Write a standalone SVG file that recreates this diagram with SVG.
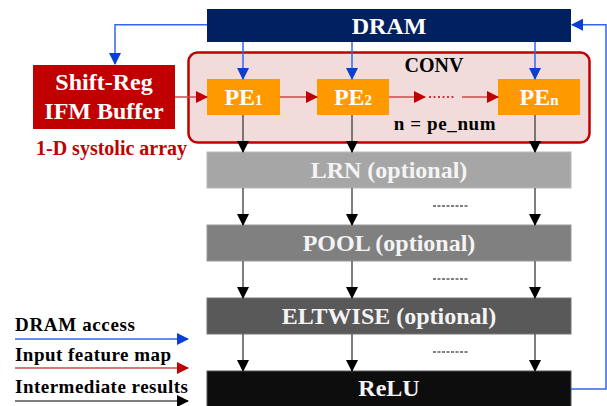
<svg xmlns="http://www.w3.org/2000/svg" width="607" height="406" viewBox="0 0 607 406" font-family="'Liberation Serif', 'DejaVu Serif', serif" font-weight="bold">
<style>
text{font-family:'Liberation Serif','DejaVu Serif',serif;font-weight:bold}
.wt{fill:#ffffff;font-size:24px;text-anchor:middle}
.bar{fill:#f4f4f4;font-size:24px;text-anchor:middle}
.leg{fill:#000;font-size:19px}
.blue{stroke:#3366ee;stroke-width:1.5;fill:none}
.red{stroke:#d04848;stroke-width:1.5;fill:none}
.blk{stroke:#555;stroke-width:1.5;fill:none}
.sub{font-size:15px}
</style>
<defs>
<marker id="hb" markerUnits="userSpaceOnUse" markerWidth="12" markerHeight="12" refX="11" refY="6" orient="auto"><path d="M0,0 L12,6 L0,12 Z" fill="#0a3fd6"/></marker>
<marker id="hr" markerUnits="userSpaceOnUse" markerWidth="12" markerHeight="12" refX="11" refY="6" orient="auto"><path d="M0,0 L12,6 L0,12 Z" fill="#c00000"/></marker>
<marker id="hk" markerUnits="userSpaceOnUse" markerWidth="12" markerHeight="12" refX="11" refY="6" orient="auto"><path d="M0,0 L12,6 L0,12 Z" fill="#000"/></marker>
</defs>

<g id="conv">
<rect x="188.5" y="52.5" width="401" height="90" rx="9" fill="#f2dcdb" stroke="#c00000" stroke-width="2.5"/>
<text x="434" y="72" font-size="20" text-anchor="middle">CONV</text>
<text x="445" y="130" font-size="19" text-anchor="middle" letter-spacing="0.6">n = pe_num</text>
</g>

<g id="dram">
<rect x="207" y="9" width="364" height="33" fill="#002060"/>
<text class="wt" x="389" y="33.5">DRAM</text>
</g>

<g id="shiftreg">
<rect x="33" y="65" width="142" height="64" fill="#c00000"/>
<text class="wt" x="104" y="90">Shift-Reg</text>
<text class="wt" x="104" y="119">IFM Buffer</text>
</g>
<text x="36" y="155" font-size="20" fill="#c00000">1-D systolic array</text>

<g id="pe1">
<rect x="207" y="79" width="73" height="36" fill="#ff9900"/>
<text class="wt" x="243.5" y="105">PE<tspan class="sub">1</tspan></text>
</g>
<g id="pe2">
<rect x="317" y="79" width="72" height="36" fill="#ff9900"/>
<text class="wt" x="353" y="105">PE<tspan class="sub">2</tspan></text>
</g>
<g id="pen">
<rect x="498" y="79" width="82" height="36" fill="#ff9900"/>
<text class="wt" x="539" y="105">PE<tspan class="sub">n</tspan></text>
</g>

<g id="lrn">
<rect x="207" y="152" width="364" height="36" fill="#a6a6a6" stroke="#b8b8b8" stroke-width="1"/>
<text class="bar" x="389" y="178">LRN (optional)</text>
</g>
<g id="pool">
<rect x="207" y="225" width="364" height="36" fill="#808080" stroke="#9a9a9a" stroke-width="1"/>
<text class="bar" x="389" y="251">POOL (optional)</text>
</g>
<g id="eltwise">
<rect x="207" y="298" width="364" height="36" fill="#595959" stroke="#777" stroke-width="1"/>
<text class="bar" x="389" y="324">ELTWISE (optional)</text>
</g>
<g id="relu">
<rect x="207" y="371" width="364" height="36" fill="#0d0d0d" stroke="#555" stroke-width="1"/>
<text class="bar" x="389" y="396">ReLU</text>
</g>

<g id="connectors">
<path class="blue" d="M207,24.7 H115 V64" marker-end="url(#hb)"/>
<path class="blue" d="M243,42 V79" marker-end="url(#hb)"/>
<path class="blue" d="M352,42 V79" marker-end="url(#hb)"/>
<path class="blue" d="M535,42 V79" marker-end="url(#hb)"/>
<path class="blue" d="M571,389 H606 V24.7 H572" marker-end="url(#hb)"/>

<path class="red" d="M175,97 H207" marker-end="url(#hr)"/>
<path class="red" d="M280,97 H317" marker-end="url(#hr)"/>
<path class="red" d="M389,97 H425" marker-end="url(#hr)"/>
<path d="M429,97 H456" stroke="#c00000" stroke-width="1.5" stroke-dasharray="2,2.5"/>
<path class="red" d="M462,97 H498" marker-end="url(#hr)"/>

<path class="blk" d="M243,115 V152" marker-end="url(#hk)"/>
<path class="blk" d="M352,115 V152" marker-end="url(#hk)"/>
<path class="blk" d="M535,115 V152" marker-end="url(#hk)"/>
<path class="blk" d="M243,188 V225" marker-end="url(#hk)"/>
<path class="blk" d="M352,188 V225" marker-end="url(#hk)"/>
<path class="blk" d="M535,188 V225" marker-end="url(#hk)"/>
<path class="blk" d="M243,261 V298" marker-end="url(#hk)"/>
<path class="blk" d="M352,261 V298" marker-end="url(#hk)"/>
<path class="blk" d="M535,261 V298" marker-end="url(#hk)"/>
<path class="blk" d="M243,334 V371" marker-end="url(#hk)"/>
<path class="blk" d="M352,334 V371" marker-end="url(#hk)"/>
<path class="blk" d="M535,334 V371" marker-end="url(#hk)"/>

<path d="M433,206 H468 M433,279 H468 M433,352 H468" stroke="#000" stroke-width="1" stroke-dasharray="3,1.5"/>
</g>

<g id="legend">
<text class="leg" x="15" y="331" textLength="120" lengthAdjust="spacing">DRAM access</text>
<path class="blue" d="M15,339 H188" marker-end="url(#hb)"/>
<text class="leg" x="15" y="361" textLength="156" lengthAdjust="spacing">Input feature map</text>
<path class="red" d="M15,368 H188" marker-end="url(#hr)"/>
<text class="leg" x="15" y="393" textLength="173" lengthAdjust="spacing">Intermediate results</text>
<path class="blk" d="M15,401 H188" marker-end="url(#hk)"/>
</g>
</svg>
